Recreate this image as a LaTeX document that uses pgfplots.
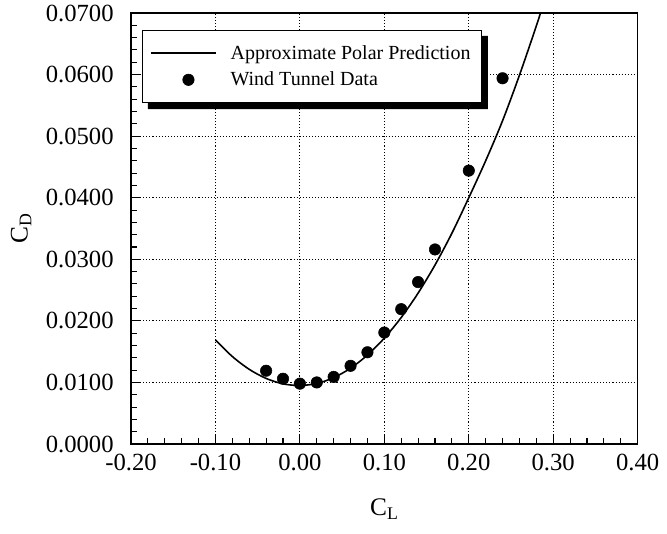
\documentclass[border=0pt]{standalone}
\usepackage{pgfplots}
\pgfplotsset{compat=1.18}
\usepackage{fontspec}
\setmainfont{Liberation Serif}
\pgfplotsset{
  mylineleg/.style={legend image code/.code={\draw[##1] (0pt,0pt) -- (48.75pt,0pt);}},
  mymarkleg/.style={legend image code/.code={\draw[##1] plot coordinates {(27.75pt,0pt)};}},
}
\begin{document}
\begin{tikzpicture}
\begin{axis}[
  at={(0,0)}, anchor=south west,
  scale only axis, width=380pt, height=323.25pt,
  xmin=-0.2, xmax=0.4, ymin=0, ymax=0.07,
  xtick={-0.2,-0.1,0,0.1,0.2,0.3,0.4},
  xticklabels={-0.20,-0.10,0.00,0.10,0.20,0.30,0.40},
  ytick={0,0.01,0.02,0.03,0.04,0.05,0.06,0.07},
  yticklabels={0.0000,0.0100,0.0200,0.0300,0.0400,0.0500,0.0600,0.0700},
  scaled x ticks=false, scaled y ticks=false,
  minor x tick num=4, minor y tick num=4,
  tick pos=left, tick align=inside,
  major tick length=7pt, minor tick length=4.5pt,
  every tick/.style={black, line width=0.8pt},
  grid=major,
  major grid style={black, line width=0.8pt, dash pattern=on 0.8pt off 1.5pt},
  axis line style={line width=1.1pt},
  ticklabel style={font=\fontsize{18.5}{21}\selectfont},
  xticklabel style={yshift=-4pt},
  yticklabel style={xshift=-9.5pt},
  xlabel={C\textsubscript{L}}, ylabel={C\textsubscript{D}},
  label style={font=\fontsize{19}{22}\selectfont},
  xlabel style={yshift=-14pt},
  ylabel style={yshift=4pt},
  legend cell align=left,
  legend style={name=leg, at={(axis description cs:0.0217,0.9606)}, anchor=north west,
    draw=black, line width=1pt, fill=white,
    font=\fontsize{15}{18}\selectfont, inner xsep=6pt, inner ysep=9pt,
    row sep=4pt, column sep=8pt},
]
\addplot[black, line width=1.2pt, smooth, mylineleg]
coordinates {
(-0.10,0.01690) (-0.08,0.01421) (-0.06,0.01213) (-0.04,0.01065) (-0.02,0.00977)
(0.00,0.00950) (0.02,0.00983) (0.04,0.01077) (0.06,0.01231) (0.08,0.01445)
(0.10,0.01720) (0.12,0.02055) (0.14,0.02451) (0.16,0.02907) (0.18,0.03423)
(0.20,0.04000) (0.22,0.04600) (0.24,0.05250) (0.26,0.05990) (0.28,0.06790)
(0.29,0.07220)
};
\addlegendentry{Approximate Polar Prediction}
\addplot[only marks, mark=*, mark size=4.3pt, black, mark options={line width=0.4pt}, mymarkleg]
coordinates {
(-0.04,0.0119) (-0.02,0.0106) (0.00,0.0098) (0.02,0.0100) (0.04,0.0109)
(0.06,0.0127) (0.08,0.0149) (0.10,0.0181) (0.12,0.0219) (0.14,0.0263)
(0.16,0.0316) (0.20,0.0444) (0.24,0.0594)
};
\addlegendentry{Wind Tunnel Data}
\end{axis}
\fill[black] ([yshift=-4.5pt]leg.north east) -- ([xshift=4.5pt,yshift=-4.5pt]leg.north east)
  -- ([xshift=4.5pt,yshift=-4.5pt]leg.south east) -- ([xshift=4.5pt,yshift=-4.5pt]leg.south west)
  -- ([xshift=4.5pt]leg.south west) -- (leg.south east) -- cycle;
\pgfresetboundingbox
\path (-98.25pt,-66.75pt) rectangle (402pt,333pt);
\end{tikzpicture}
\end{document}
